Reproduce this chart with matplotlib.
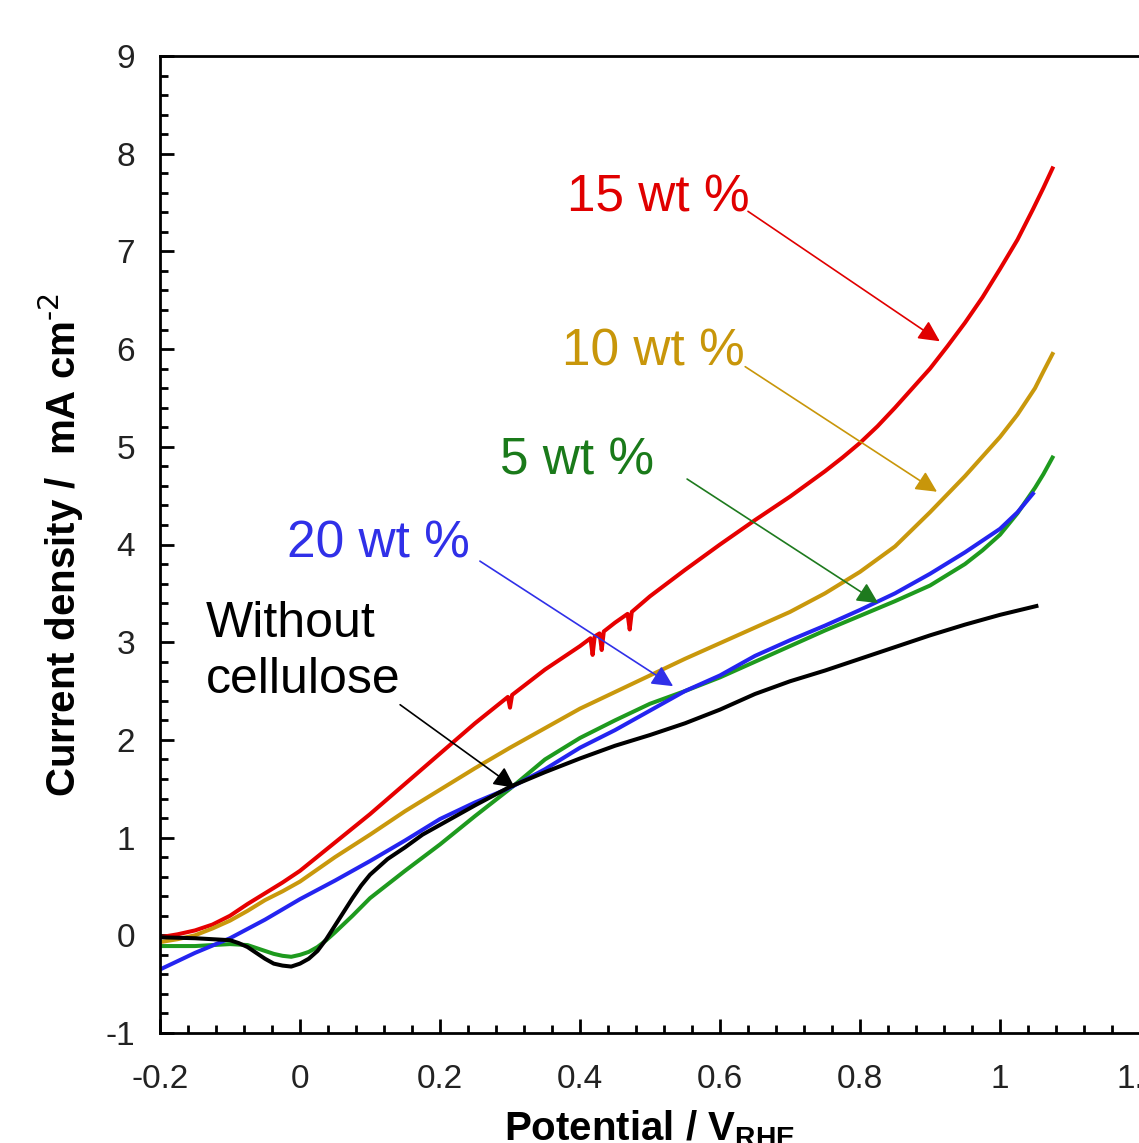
import numpy as np
import matplotlib.pyplot as plt
from matplotlib.ticker import MultipleLocator, FormatStrFormatter

plt.rcParams['font.family'] = ['Liberation Sans', 'DejaVu Sans']
plt.rcParams['axes.unicode_minus'] = False
plt.rcParams['mathtext.default'] = 'regular'

# Curvas (potencial em V_RHE, densidade de corrente em mA cm-2)
v_red = [-0.2, -0.175, -0.15, -0.125, -0.1, -0.075, -0.05, -0.025, 0.0, 0.05, 0.1, 0.15,
         0.2, 0.25, 0.297, 0.3, 0.303, 0.35, 0.4, 0.415, 0.418, 0.421, 0.428, 0.431, 0.434,
         0.45, 0.468, 0.471, 0.474, 0.5, 0.55, 0.6, 0.65, 0.7, 0.75, 0.775, 0.8, 0.825,
         0.85, 0.875, 0.9, 0.925, 0.95, 0.975, 1.0, 1.025, 1.047, 1.062, 1.075]
j_red = [-0.02, 0.01, 0.05, 0.11, 0.2, 0.32, 0.43, 0.54, 0.66, 0.95, 1.24, 1.55,
         1.86, 2.17, 2.44, 2.33, 2.46, 2.72, 2.96, 3.04, 2.87, 3.06, 3.09, 2.92, 3.11,
         3.2, 3.29, 3.13, 3.31, 3.47, 3.74, 4.0, 4.25, 4.49, 4.75, 4.89, 5.04, 5.21,
         5.4, 5.6, 5.8, 6.03, 6.27, 6.53, 6.82, 7.12, 7.43, 7.65, 7.85]

v_gold = [-0.2, -0.175, -0.15, -0.125, -0.1, -0.075, -0.05, -0.025, 0.0, 0.05, 0.1, 0.15,
          0.2, 0.25, 0.3, 0.35, 0.4, 0.45, 0.5, 0.55, 0.6, 0.65, 0.7, 0.75, 0.8, 0.85,
          0.9, 0.95, 1.0, 1.025, 1.05, 1.062, 1.075]
j_gold = [-0.07, -0.04, 0.0, 0.07, 0.15, 0.25, 0.36, 0.45, 0.55, 0.8, 1.03, 1.27,
          1.49, 1.71, 1.92, 2.12, 2.32, 2.49, 2.66, 2.83, 2.99, 3.15, 3.31, 3.5, 3.72, 3.98,
          4.33, 4.7, 5.1, 5.33, 5.6, 5.77, 5.95]

v_green = [-0.2, -0.15, -0.1, -0.075, -0.0625, -0.05, -0.0375, -0.025, -0.0125, 0.0,
           0.0125, 0.025, 0.0375, 0.05, 0.075, 0.1, 0.15, 0.2, 0.25, 0.3, 0.35, 0.4, 0.45,
           0.5, 0.55, 0.6, 0.65, 0.7, 0.75, 0.8, 0.85, 0.9, 0.95, 0.975, 1.0, 1.025, 1.05,
           1.062, 1.075]
j_green = [-0.11, -0.11, -0.09, -0.1, -0.13, -0.16, -0.19, -0.21, -0.22, -0.2,
           -0.17, -0.12, -0.05, 0.03, 0.2, 0.38, 0.66, 0.93, 1.22, 1.5, 1.8, 2.02, 2.2,
           2.37, 2.5, 2.64, 2.8, 2.96, 3.12, 3.27, 3.42, 3.58, 3.8, 3.94, 4.1, 4.32, 4.58,
           4.72, 4.89]

v_blue = [-0.2, -0.15, -0.1, -0.05, 0.0, 0.05, 0.1, 0.15, 0.2, 0.25, 0.3, 0.35, 0.4,
          0.45, 0.5, 0.55, 0.6, 0.65, 0.7, 0.75, 0.8, 0.85, 0.9, 0.95, 1.0, 1.025, 1.047]
j_blue = [-0.35, -0.18, -0.03, 0.16, 0.37, 0.56, 0.76, 0.97, 1.19, 1.36, 1.51, 1.7, 1.92,
          2.1, 2.3, 2.5, 2.66, 2.86, 3.02, 3.17, 3.33, 3.5, 3.7, 3.92, 4.16, 4.33, 4.52]

v_black = [-0.2, -0.15, -0.1, -0.0875, -0.075, -0.0625, -0.05, -0.0375, -0.025, -0.0125,
           0.0, 0.0125, 0.025, 0.0375, 0.05, 0.0625, 0.075, 0.0875, 0.1, 0.125, 0.15, 0.175,
           0.2, 0.25, 0.3, 0.35, 0.4, 0.45, 0.5, 0.55, 0.6, 0.65, 0.7, 0.75, 0.8, 0.85,
           0.9, 0.95, 1.0, 1.052]
j_black = [-0.02, -0.03, -0.05, -0.08, -0.12, -0.18, -0.24, -0.29, -0.31, -0.32,
           -0.29, -0.24, -0.16, -0.04, 0.1, 0.24, 0.38, 0.51, 0.62, 0.78, 0.9, 1.03,
           1.13, 1.33, 1.52, 1.67, 1.81, 1.94, 2.05, 2.17, 2.31, 2.47, 2.6, 2.71, 2.83,
           2.95, 3.07, 3.18, 3.28, 3.37]

# Rótulos: texto, posição do texto, ponta da seta
labels = ['15 wt %', '10 wt %', '5 wt %', '20 wt %', 'Without\ncellulose']
text_xy = [(0.381, 7.55), (0.374, 5.97), (0.286, 4.85), (-0.019, 4.0), (-0.135, 2.9)]
arrow_from = [(0.64, 7.41), (0.636, 5.82), (0.553, 4.67), (0.257, 3.83), (0.143, 2.36)]
arrow_to = [(0.914, 6.08), (0.91, 4.54), (0.826, 3.40), (0.533, 2.55), (0.307, 1.51)]
text_colors = ['#e00000', '#c8960a', '#1a7a1a', '#3030e8', 'black']
arrow_colors = ['#e00000', '#c8960a', '#1e7a1e', '#3030e8', 'black']

fig = plt.figure(figsize=(11.39, 11.43), dpi=100)
ax = fig.add_axes([160/1139, 110/1143, 980/1139, 977/1143])

ax.plot(v_red, j_red, color='#e60000', lw=2.9)
ax.plot(v_gold, j_gold, color='#c9980c', lw=2.9)
ax.plot(v_green, j_green, color='#1e9a1e', lw=2.9)
ax.plot(v_blue, j_blue, color='#2424f0', lw=2.9)
ax.plot(v_black, j_black, color='black', lw=2.9)

for i in range(len(labels)):
    ax.text(text_xy[i][0], text_xy[i][1], labels[i], color=text_colors[i],
            fontsize=37 if i < 4 else 36, ha='left', va='center', linespacing=1.3)
    ax.annotate('', xy=arrow_to[i], xytext=arrow_from[i],
                arrowprops=dict(arrowstyle='-|>', color=arrow_colors[i], lw=1.2,
                                mutation_scale=32, shrinkA=0, shrinkB=0))

ax.set_xlim(-0.2, 1.2)
ax.set_ylim(-1, 9)
ax.xaxis.set_major_locator(MultipleLocator(0.2))
ax.xaxis.set_minor_locator(MultipleLocator(0.04))
ax.yaxis.set_major_locator(MultipleLocator(1))
ax.yaxis.set_minor_locator(MultipleLocator(0.2))
ax.xaxis.set_major_formatter(FormatStrFormatter('%g'))
ax.yaxis.set_major_formatter(FormatStrFormatter('%g'))
ax.tick_params(which='both', direction='in', top=False, right=False, labelsize=24,
               width=2, color='black', labelcolor='#222222')
ax.tick_params(which='major', length=10)
ax.tick_params(axis='x', which='major', pad=22)
ax.tick_params(axis='y', which='major', pad=18)
ax.tick_params(which='minor', length=6)
for s in ax.spines.values():
    s.set_linewidth(2)

ax.set_xlabel('Potential / V$_{RHE}$', fontsize=29, fontweight='bold', labelpad=10)
ax.set_ylabel('Current density /  mA cm$^{\\text{-2}}$', fontsize=29, fontweight='bold',
              labelpad=14)

fig.savefig('out.png', dpi=100)
